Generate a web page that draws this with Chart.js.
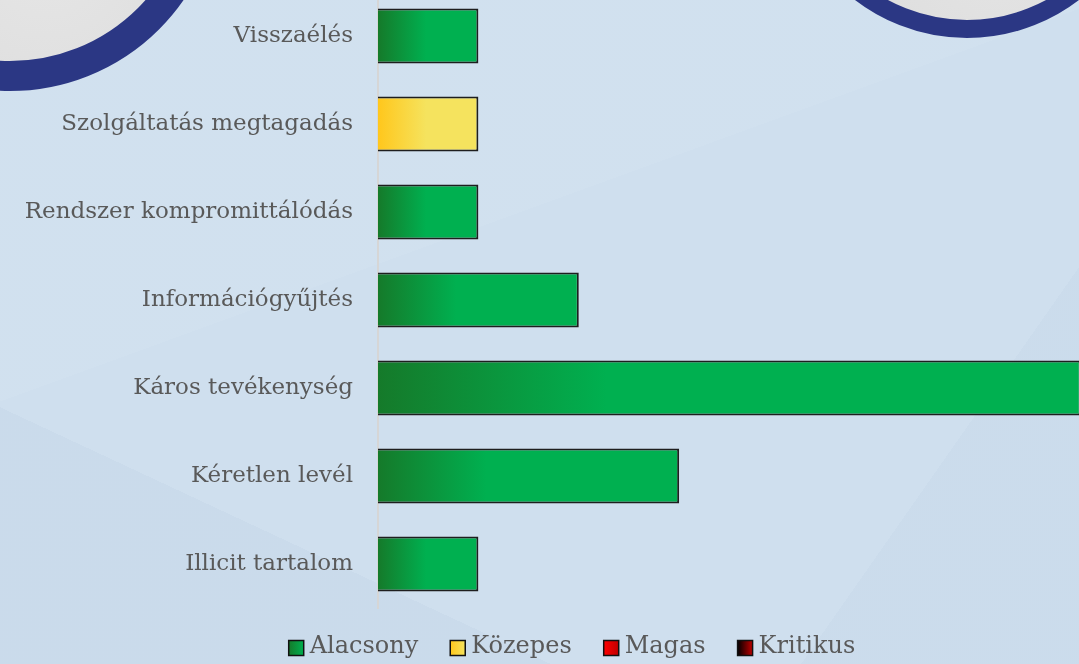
<!DOCTYPE html>
<html>
<head>
<meta charset="utf-8">
<script src="https://cdn.jsdelivr.net/npm/chart.js@4.4.1/dist/chart.umd.min.js"></script>
<style>
  html, body { margin: 0; padding: 0; }
  body {
    width: 1079px; height: 664px; overflow: hidden; position: relative;
    background:
      linear-gradient(160deg, rgba(255,255,255,0.05) 0 38%, transparent 38%),
      linear-gradient(25deg, rgba(110,140,180,0.05) 0 22%, transparent 22%),
      linear-gradient(305deg, rgba(110,140,180,0.04) 0 18%, transparent 18%),
      #cfdfee;
  }
  .ring { position: absolute; border-radius: 50%; box-sizing: border-box;
          background: radial-gradient(circle at 60% 70%, #e6e6e6, #d6d6d6); }
  #ringLeft { left: -201px; top: -331px; width: 422px; height: 422px; border: 30px solid #2b3784; }
  #ringRight { left: 783px; top: -330px; width: 368px; height: 368px; border: 18px solid #2b3784; }
  #wrap { position: absolute; left: 0; top: -8px; width: 1145px; height: 672px; }
</style>
</head>
<body>
<div class="ring" id="ringLeft"></div>
<div class="ring" id="ringRight"></div>
<div id="wrap"><canvas id="chart"></canvas></div>
<script>
// Data
const categories = ['Visszaélés', 'Szolgáltatás megtagadás', 'Rendszer kompromittálódás',
    'Információgyűjtés', 'Káros tevékenység', 'Kéretlen levél', 'Illicit tartalom'];
const alacsony = [1, null, 1, 2, 7, 3, 1];
const kozepes = [null, 1, null, null, null, null, null];
const magas = [null, null, null, null, null, null, null];
const kritikus = [null, null, null, null, null, null, null];
const xTicks = { min: 0, max: 7.64 };

// dark -> light colour pairs per level
const levelColors = [
    ['#157a2a', '#00b050'],
    ['#ffc71c', '#f5e35e'],
    ['#ff0000', '#c00000'],
    ['#000000', '#c00000']
];

// Horizontal gradient per bar, dark on the left
function barGradient(pair) {
    return function(ctx) {
        const chart = ctx.chart;
        if (!chart.chartArea || ctx.type !== 'data') return pair[1];
        const x = chart.scales.x;
        const v = ctx.raw || 0;
        const x0 = x.getPixelForValue(0);
        const x1 = x.getPixelForValue(v);
        const len = 18 + 0.3 * (x1 - x0);
        const g = chart.ctx.createLinearGradient(x0, 0, x0 + len, 0);
        g.addColorStop(0, pair[0]);
        g.addColorStop(1, pair[1]);
        return g;
    };
}

// Legend drawn by hand so spacing matches the original
const customLegend = {
    id: 'customLegend',
    afterDraw(chart) {
        const ctx = chart.ctx;
        const font = '24px "DejaVu Serif"';
        const box = 15, gap = 6, itemGap = 32;
        ctx.save();
        ctx.font = font;
        const items = chart.data.datasets.map(ds => ds.label);
        const widths = items.map(t => ctx.measureText(t).width);
        let total = widths.reduce((a, b) => a + b, 0) + items.length * (box + gap) + (items.length - 1) * itemGap;
        let x = 572 - total / 2;
        const cy = 655;
        ctx.textBaseline = 'middle';
        items.forEach((t, i) => {
            const g = ctx.createLinearGradient(x, 0, x + box, 0);
            g.addColorStop(0, levelColors[i][0]);
            g.addColorStop(1, levelColors[i][1]);
            ctx.fillStyle = g;
            ctx.fillRect(x, cy - box / 2 + 1, box, box);
            ctx.strokeStyle = '#111';
            ctx.lineWidth = 1.5;
            ctx.strokeRect(x, cy - box / 2 + 1, box, box);
            ctx.fillStyle = '#595959';
            ctx.fillText(t, x + box + gap, cy);
            x += box + gap + widths[i] + itemGap;
        });
        ctx.restore();
    }
};

new Chart(document.getElementById('chart'), {
    type: 'bar',
    data: {
        labels: categories,
        datasets: [
            { label: 'Alacsony', data: alacsony, backgroundColor: barGradient(levelColors[0]) },
            { label: 'Közepes', data: kozepes, backgroundColor: barGradient(levelColors[1]) },
            { label: 'Magas', data: magas, backgroundColor: barGradient(levelColors[2]) },
            { label: 'Kritikus', data: kritikus, backgroundColor: barGradient(levelColors[3]) }
        ]
    },
    plugins: [customLegend],
    options: {
        indexAxis: 'y',
        responsive: true,
        maintainAspectRatio: false,
        animation: false,
        layout: { padding: { left: 0, right: 0, top: 0, bottom: 56 } },
        datasets: {
            bar: {
                categoryPercentage: 1,
                barPercentage: 0.625,
                borderColor: '#1e1e1e',
                borderWidth: 2
            }
        },
        plugins: {
            tooltip: { enabled: false },
            legend: { display: false }
        },
        scales: {
            x: {
                display: false,
                stacked: true,
                min: xTicks.min,
                max: xTicks.max
            },
            y: {
                stacked: true,
                afterFit: function(scale) {
                    scale.width = 378;
                    scale.paddingTop = 0;
                    scale.paddingBottom = 0;
                },
                grid: { display: false, drawTicks: false },
                border: { display: true, color: '#d6d6d6', width: 2 },
                ticks: {
                    color: '#595959',
                    padding: 25,
                    font: { family: 'DejaVu Serif', size: 23 }
                }
            }
        }
    }
});
</script>
</body>
</html>
